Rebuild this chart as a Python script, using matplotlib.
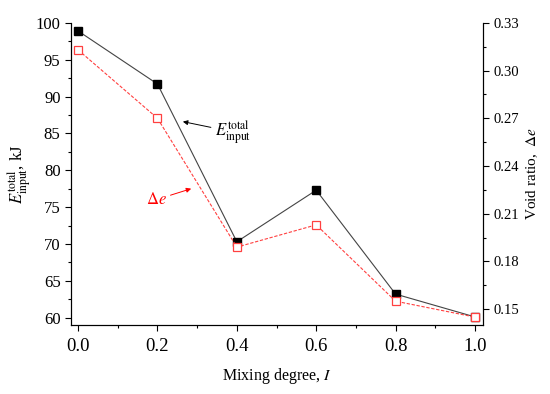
import matplotlib
matplotlib.use('Agg')
import matplotlib.pyplot as plt
from matplotlib.ticker import MultipleLocator

# data
mixing = [0.0, 0.2, 0.4, 0.6, 0.8, 1.0]
e_input = [98.9, 91.7, 70.3, 77.3, 63.2, 60.1]
void_ratio = [0.313, 0.270, 0.189, 0.203, 0.155, 0.145]

x_ticks = [0.0, 0.2, 0.4, 0.6, 0.8, 1.0]
x_ticklabels = ['0.0', '0.2', '0.4', '0.6', '0.8', '1.0']
r_ticks = [0.15, 0.18, 0.21, 0.24, 0.27, 0.30, 0.33]
r_ticklabels = ['0.15', '0.18', '0.21', '0.24', '0.27', '0.30', '0.33']

plt.rcParams['font.family'] = 'Liberation Serif'
plt.rcParams['mathtext.fontset'] = 'stix'

fig = plt.figure(figsize=(5.5, 3.94), dpi=100)
ax = fig.add_axes([0.129, 0.175, 0.749, 0.767])
ax2 = ax.twinx()

ax.plot(mixing, e_input, '-', color='#444444', lw=0.8, marker='s', ms=5.5,
        mfc='black', mec='black', zorder=3)
ax2.plot(mixing, void_ratio, '--', color='#ff4040', lw=0.8, dashes=(3, 1.5),
         marker='s', ms=5.5, mfc='white', mec='#ff4040', mew=0.9)

ax.set_xlim(-0.018, 1.02)
ax.set_ylim(59, 100)
ax2.set_ylim(0.14, 0.33)

ax.set_xticks(x_ticks)
ax.set_xticklabels(x_ticklabels)
ax.xaxis.set_minor_locator(MultipleLocator(0.1))
ax.yaxis.set_major_locator(MultipleLocator(5))
ax.yaxis.set_minor_locator(MultipleLocator(2.5))
ax2.set_yticks(r_ticks)
ax2.set_yticklabels(r_ticklabels)
ax2.yaxis.set_minor_locator(MultipleLocator(0.015))

for a in (ax, ax2):
    a.spines['top'].set_visible(False)
    a.tick_params(which='major', direction='out', length=4, width=0.8)
    a.tick_params(which='minor', direction='out', length=2.5, width=0.8)
ax.tick_params(axis='x', labelsize=13.5, pad=5)
ax.tick_params(axis='y', labelsize=12)
ax2.tick_params(labelsize=10.5)

ax.set_xlabel('Mixing degree, $I$', fontsize=11.5, labelpad=8)
ax.set_ylabel(r'$E_{\mathrm{input}}^{\mathrm{total}}$, kJ', fontsize=12, labelpad=2)
ax2.set_ylabel(r'Void ratio,  $\Delta e$', fontsize=11, labelpad=4)

ax.annotate(r'$E_{\mathrm{input}}^{\mathrm{total}}$', xy=(0.264, 86.6), xytext=(0.345, 85.2),
            fontsize=12, color='black', ha='left', va='center',
            arrowprops=dict(arrowstyle='-|>', color='black', lw=0.7,
                            mutation_scale=7, shrinkA=1, shrinkB=0))
ax.annotate(r'$\Delta e$', xy=(0.285, 77.5), xytext=(0.17, 76.0),
            fontsize=12, color='red', ha='left', va='center',
            arrowprops=dict(arrowstyle='-|>', color='red', lw=0.7,
                            mutation_scale=7, shrinkA=1, shrinkB=0))

fig.savefig('out.png', dpi=100)
